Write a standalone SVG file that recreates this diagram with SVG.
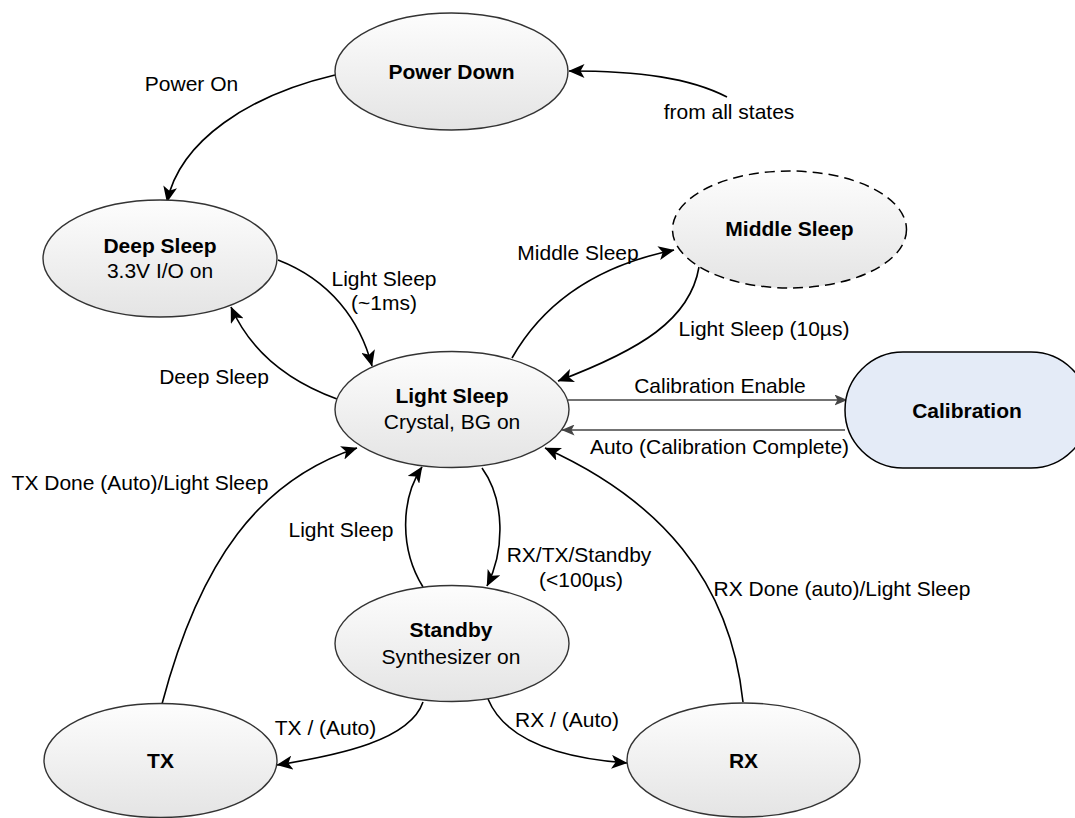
<svg xmlns="http://www.w3.org/2000/svg" width="1075" height="818" viewBox="0 0 1075 818">
<defs>
<linearGradient id="g" x1="0" y1="0" x2="0" y2="1">
<stop offset="0" stop-color="#fdfdfd"/>
<stop offset="1" stop-color="#e4e4e4"/>
</linearGradient>
<marker id="a" viewBox="0 0 16 14" markerWidth="16" markerHeight="14" refX="15.5" refY="7" orient="auto" markerUnits="userSpaceOnUse">
<path d="M0,0 L16,7 L0,14 L4,7 z" fill="#000"/>
</marker>
<marker id="ag" viewBox="0 0 13 11" markerWidth="13" markerHeight="11" refX="12.5" refY="5.5" orient="auto" markerUnits="userSpaceOnUse">
<path d="M0,0 L13,5.5 L0,11 L3,5.5 z" fill="#444"/>
</marker>
</defs>
<style>
.n{fill:url(#g);stroke:#333;stroke-width:1.4}
.t{font-family:"Liberation Sans",Arial,sans-serif;font-size:21px;fill:#000;text-anchor:middle}
.b{font-weight:bold}
.c{fill:none;stroke:#000;stroke-width:1.6;marker-end:url(#a)}
.cg{fill:none;stroke:#444;stroke-width:1.6;marker-end:url(#ag)}
</style>
<rect width="1075" height="818" fill="#fff"/>
<g id="connectors">
<path class="c" d="M335,75 C250,95 180,140 167,202"/>
<path class="c" d="M727,97 C690,78 640,71 569,71"/>
<path class="c" d="M278,260 C330,280 360,320 372,366"/>
<path class="c" d="M337,399 C285,380 250,350 231,307"/>
<path class="c" d="M512,358 C545,300 600,265 674,250"/>
<path class="c" d="M699,267 C690,320 640,350 558,381"/>
<path class="cg" d="M568,400 L847,400"/>
<path class="cg" d="M845,430 L562,430"/>
<path class="c" d="M162,704 C200,560 260,480 357,448"/>
<path class="c" d="M482,468 C505,500 505,550 487,586"/>
<path class="c" d="M423,587 C400,550 400,500 422,467"/>
<path class="c" d="M423,702 C410,740 340,755 277,765"/>
<path class="c" d="M488,699 C505,740 560,758 627,763"/>
<path class="c" d="M743,702 C730,580 660,500 545,448"/>
<text class="t" x="191.5" y="91">Power On</text>
<text class="t" x="729" y="119">from all states</text>
<text class="t" x="384" y="286">Light Sleep</text>
<text class="t" x="384" y="310">(~1ms)</text>
<text class="t" x="214" y="384">Deep Sleep</text>
<text class="t" x="578" y="260">Middle Sleep</text>
<text class="t" x="764" y="336">Light Sleep (10µs)</text>
<text class="t" x="720" y="393">Calibration Enable</text>
<text class="t" x="719.5" y="454">Auto (Calibration Complete)</text>
<text class="t" x="140" y="490">TX Done (Auto)/Light Sleep</text>
<text class="t" x="341" y="537">Light Sleep</text>
<text class="t" x="579" y="562">RX/TX/Standby</text>
<text class="t" x="581" y="587">(&lt;100µs)</text>
<text class="t" x="842" y="596">RX Done (auto)/Light Sleep</text>
<text class="t" x="325.5" y="735">TX / (Auto)</text>
<text class="t" x="567" y="727">RX / (Auto)</text>
</g>
<g id="power-down">
<ellipse class="n" cx="451.5" cy="71.5" rx="116.5" ry="58.5"/>
<text class="t b" x="451.5" y="79">Power Down</text>
</g>
<g id="deep-sleep">
<ellipse class="n" cx="160" cy="258.5" rx="117" ry="58.5"/>
<text class="t b" x="160" y="253">Deep Sleep</text>
<text class="t" x="160" y="278">3.3V I/O on</text>
</g>
<g id="middle-sleep">
<ellipse cx="789.5" cy="229.5" rx="117" ry="58.5" fill="url(#g)" stroke="#000" stroke-width="1.5" stroke-dasharray="10,6"/>
<text class="t b" x="789.5" y="236">Middle Sleep</text>
</g>
<g id="light-sleep">
<ellipse class="n" cx="452" cy="409.5" rx="117" ry="58"/>
<text class="t b" x="452" y="403">Light Sleep</text>
<text class="t" x="452" y="429">Crystal, BG on</text>
</g>
<g id="calibration">
<rect x="845" y="352" width="244" height="116" rx="58" ry="58" fill="#e4ebf7" stroke="#000" stroke-width="1.5"/>
<text class="t b" x="967" y="418">Calibration</text>
</g>
<g id="standby">
<ellipse class="n" cx="452" cy="643.5" rx="117" ry="58"/>
<text class="t b" x="451" y="637">Standby</text>
<text class="t" x="451" y="664">Synthesizer on</text>
</g>
<g id="tx">
<ellipse class="n" cx="160.5" cy="760.5" rx="116.5" ry="57"/>
<text class="t b" x="160.5" y="768">TX</text>
</g>
<g id="rx">
<ellipse class="n" cx="743.5" cy="760" rx="116.5" ry="57"/>
<text class="t b" x="743.5" y="768">RX</text>
</g>
</svg>
